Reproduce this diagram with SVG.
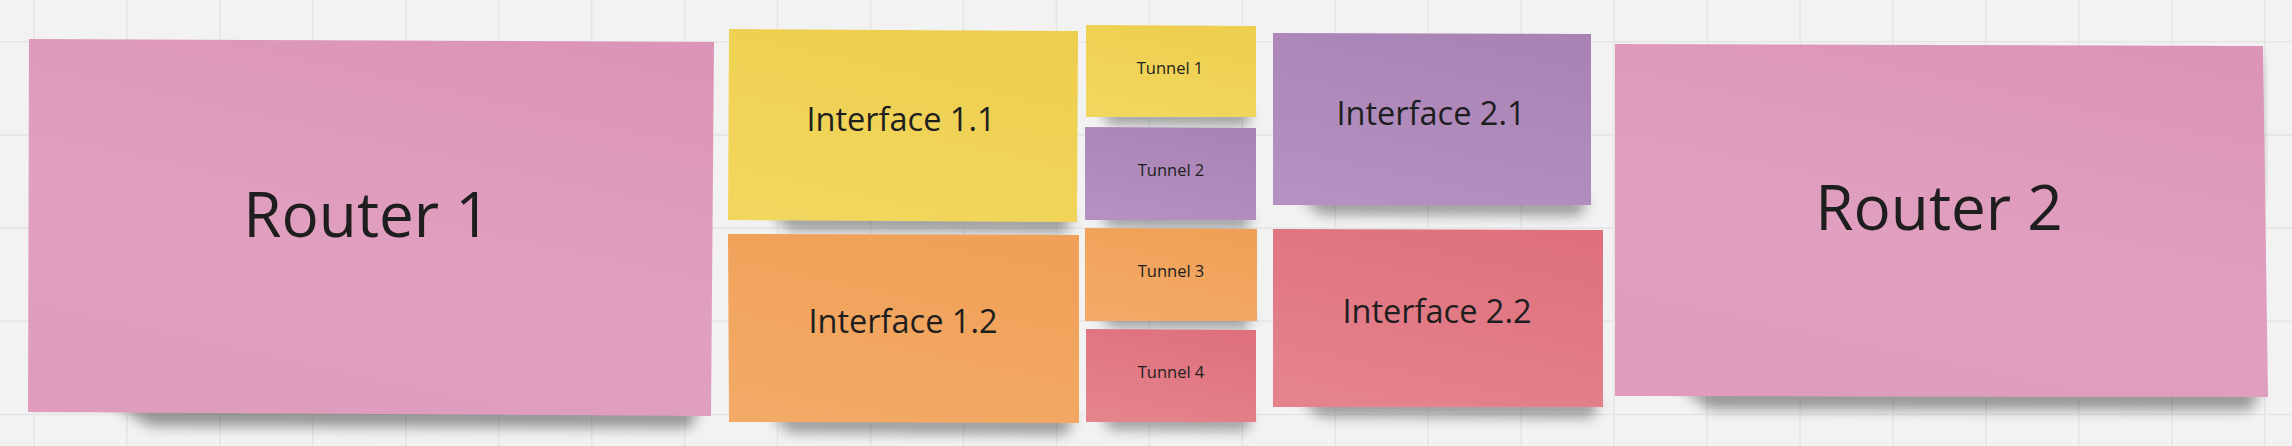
<svg xmlns="http://www.w3.org/2000/svg" width="2292" height="446" viewBox="0 0 2292 446">
<defs>
<style>
.grid{stroke:#e5e5e5;stroke-width:1.6;fill:none}
.shadow{fill:#000;opacity:0.38;filter:url(#blur)}
.lbl{font-family:"Open Sans","Noto Sans","Liberation Sans",sans-serif;fill:#1e1e1e;text-anchor:middle}
.big{font-size:62px}
.mid{font-size:32.5px}
.small{font-size:16.5px}
</style>
<filter id="blur" x="-20%" y="-150%" width="140%" height="400%"><feGaussianBlur stdDeviation="6.5"/></filter>
<linearGradient id="gPink" x1="0.7" y1="0" x2="0.3" y2="1"><stop offset="0" stop-color="#dc95b7"/><stop offset="0.6" stop-color="#e1a0c0"/><stop offset="1" stop-color="#df9cbd"/></linearGradient>
<linearGradient id="gYellow" x1="0.7" y1="0" x2="0.3" y2="1"><stop offset="0" stop-color="#edce4e"/><stop offset="1" stop-color="#f2d75e"/></linearGradient>
<linearGradient id="gOrange" x1="0.7" y1="0" x2="0.3" y2="1"><stop offset="0" stop-color="#f0a057"/><stop offset="1" stop-color="#f3aa66"/></linearGradient>
<linearGradient id="gPurple" x1="0.7" y1="0" x2="0.3" y2="1"><stop offset="0" stop-color="#a983b5"/><stop offset="1" stop-color="#b491c0"/></linearGradient>
<linearGradient id="gCoral" x1="0.7" y1="0" x2="0.3" y2="1"><stop offset="0" stop-color="#de717d"/><stop offset="1" stop-color="#e5838d"/></linearGradient>
</defs>
<rect x="0" y="0" width="2292" height="446" fill="#f2f2f2"/>
<g id="grid" class="grid">
<path d="M34 0V446M126.95 0V446M219.9 0V446M312.85 0V446M405.8 0V446M498.75 0V446M591.7 0V446M684.65 0V446M777.6 0V446M870.55 0V446M963.5 0V446M1056.45 0V446M1149.4 0V446M1242.35 0V446M1335.3 0V446M1428.25 0V446M1521.2 0V446M1614.15 0V446M1707.1 0V446M1800.05 0V446M1893 0V446M1985.95 0V446M2078.9 0V446M2171.85 0V446M2264.8 0V446"/>
<path d="M0 41.7H2292M0 134.9H2292M0 228.1H2292M0 321.3H2292M0 414.5H2292"/>
</g>
<g id="connectors"></g>
<g id="router1">
<polygon class="shadow" points="110,402 700,406 690,428 150,426"/>
<polygon points="29,39 714,42 711,416 28,412" fill="url(#gPink)"/>
<text class="lbl big" x="367" y="237">Router 1</text>
</g>
<g id="interface11">
<polygon class="shadow" points="770,213 1072,215 1066,232 790,230"/>
<polygon points="729,29 1078,31 1077,222 728,220" fill="url(#gYellow)"/>
<text class="lbl mid" x="901" y="131">Interface 1.1</text>
</g>
<g id="interface12">
<polygon class="shadow" points="770,415 1074,416 1066,434 790,432"/>
<polygon points="728,234 1079,235 1079,423 729,422" fill="url(#gOrange)"/>
<text class="lbl mid" x="903" y="333">Interface 1.2</text>
</g>
<g id="tunnel1">
<polygon class="shadow" points="1100,109 1252,110 1246,125 1110,124"/>
<polygon points="1086,25 1256,26 1256,117 1086,117" fill="url(#gYellow)"/>
<text class="lbl small" x="1170" y="74">Tunnel 1</text>
</g>
<g id="tunnel2">
<polygon class="shadow" points="1100,212 1252,213 1246,228 1110,227"/>
<polygon points="1085,127 1256,128 1256,220 1085,220" fill="url(#gPurple)"/>
<text class="lbl small" x="1171" y="176">Tunnel 2</text>
</g>
<g id="tunnel3">
<polygon class="shadow" points="1100,313 1252,314 1246,328 1110,327"/>
<polygon points="1085,228 1257,229 1257,321 1085,321" fill="url(#gOrange)"/>
<text class="lbl small" x="1171" y="277">Tunnel 3</text>
</g>
<g id="tunnel4">
<polygon class="shadow" points="1100,414 1252,415 1246,430 1110,429"/>
<polygon points="1086,329 1256,330 1256,422 1086,422" fill="url(#gCoral)"/>
<text class="lbl small" x="1171" y="378">Tunnel 4</text>
</g>
<g id="interface21">
<polygon class="shadow" points="1300,197 1588,198 1580,215 1320,214"/>
<polygon points="1273,33 1591,34 1591,205 1273,205" fill="url(#gPurple)"/>
<text class="lbl mid" x="1431" y="125">Interface 2.1</text>
</g>
<g id="interface22">
<polygon class="shadow" points="1300,399 1600,400 1592,417 1320,416"/>
<polygon points="1273,229 1603,230 1603,407 1273,407" fill="url(#gCoral)"/>
<text class="lbl mid" x="1437" y="323">Interface 2.2</text>
</g>
<g id="router2">
<polygon class="shadow" points="1680,387 2262,388 2250,410 1710,409"/>
<polygon class="shadow" points="2258,60 2266,62 2266,200 2258,200" style="opacity:0.12"/>
<polygon points="1615,44 2263,46 2268,397 1615,396" fill="url(#gPink)"/>
<text class="lbl big" x="1939" y="230">Router 2</text>
</g>
</svg>
